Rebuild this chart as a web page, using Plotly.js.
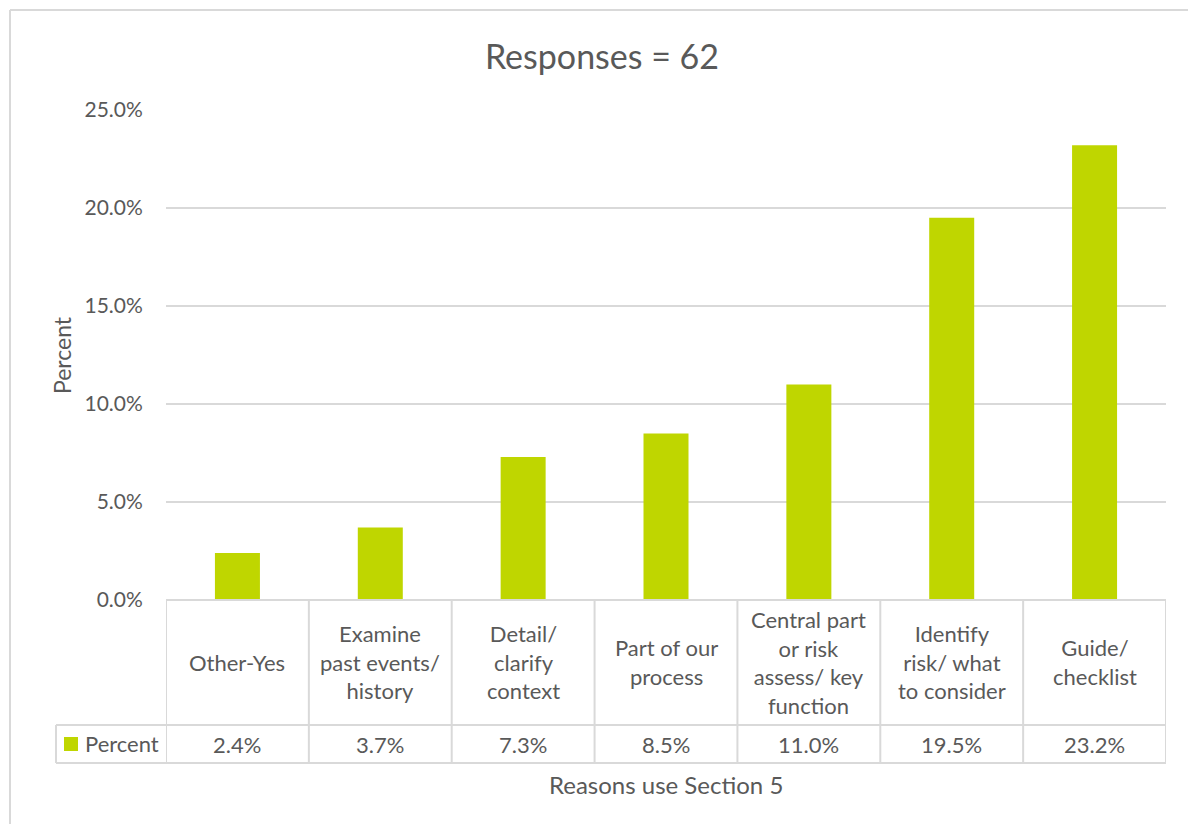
<!DOCTYPE html>
<html>
<head>
<meta charset="utf-8">
<script src="https://cdn.plot.ly/plotly-3.0.1.min.js"></script>
<style>html,body{margin:0;padding:0;background:#fff;}#chart{width:1188px;height:824px;}</style>
</head>
<body>
<div id="chart"></div>
<script>
// ---- data ----
const categories = ["Other-Yes", "Examine past events/ history", "Detail/ clarify context", "Part of our process", "Central part or risk assess/ key function", "Identify risk/ what to consider", "Guide/ checklist"];
const categoryLabels = ["Other-Yes", "Examine<br>past events/<br>history", "Detail/<br>clarify<br>context", "Part of our<br>process", "Central part<br>or risk<br>assess/ key<br>function", "Identify<br>risk/ what<br>to consider", "Guide/<br>checklist"];
const percentValues = [2.4, 3.7, 7.3, 8.5, 11.0, 19.5, 23.2];
const seriesName = "Percent";
const yTickValues = [0, 5, 10, 15, 20, 25];
const yTickLabels = ["0.0%", "5.0%", "10.0%", "15.0%", "20.0%", "25.0%"];
const chartTitle = "Responses = 62";
const xTitle = "Reasons use Section 5";
const yTitle = "Percent";

// ---- styling ----
const FONT = "Lato, 'Open Sans', sans-serif";
const TXT = "#595959";
const LINE = "#d9d9d9";
const BAR = "#BFD600";

// geometry helpers (paper coords) — plot area: x 166..1166, y 110..600
const H = 490;
const py = p => (600 - p) / H;
const px = p => (p - 166) / 1000;

const shapes = [];
const annotations = [];

// chart border (left and top visible)
shapes.push({type: "line", xref: "paper", yref: "paper", x0: px(10), x1: px(10), y0: py(830), y1: py(10), line: {color: LINE, width: 2}, layer: "below"});
shapes.push({type: "line", xref: "paper", yref: "paper", x0: px(10), x1: px(1195), y0: py(10), y1: py(10), line: {color: LINE, width: 2}, layer: "below"});

// table horizontal lines
shapes.push({type: "line", xref: "paper", yref: "paper", x0: 0, x1: 1, y0: 0, y1: 0, line: {color: LINE, width: 2}});
shapes.push({type: "line", xref: "paper", yref: "paper", x0: px(56), x1: 1, y0: py(725), y1: py(725), line: {color: LINE, width: 2}});
shapes.push({type: "line", xref: "paper", yref: "paper", x0: px(56), x1: 1, y0: py(763), y1: py(763), line: {color: LINE, width: 2}});
// table vertical lines at category boundaries
for (let i = 0; i <= categories.length; i++) {
  shapes.push({type: "line", xref: "x", yref: "paper", x0: i - 0.5, x1: i - 0.5, y0: py(763), y1: 0, line: {color: LINE, width: 2}});
}
shapes.push({type: "line", xref: "paper", yref: "paper", x0: px(56), x1: px(56), y0: py(763), y1: py(725), line: {color: LINE, width: 2}});
// legend key
shapes.push({type: "rect", xref: "paper", yref: "paper", x0: px(64), x1: px(78), y0: py(751), y1: py(737), line: {width: 0}, fillcolor: BAR});

// category labels and values
categories.forEach((c, i) => {
  annotations.push({x: c, xref: "x", y: py(662), yref: "paper", text: categoryLabels[i], showarrow: false, xanchor: "center", yanchor: "middle", align: "center", font: {family: FONT, size: 22, color: TXT}});
  annotations.push({x: c, xref: "x", y: py(744), yref: "paper", text: percentValues[i].toFixed(1) + "%", showarrow: false, xanchor: "center", yanchor: "middle", font: {family: FONT, size: 22, color: TXT}});
});
annotations.push({x: px(83), xref: "paper", y: py(743), yref: "paper", text: seriesName, showarrow: false, xanchor: "left", yanchor: "middle", font: {family: FONT, size: 22, color: TXT}});
// axis titles
annotations.push({x: px(666), xref: "paper", y: py(785), yref: "paper", text: xTitle, showarrow: false, xanchor: "center", yanchor: "middle", font: {family: FONT, size: 24, color: TXT}});
annotations.push({x: px(62), xref: "paper", y: py(355), yref: "paper", text: yTitle, showarrow: false, textangle: -90, xanchor: "center", yanchor: "middle", font: {family: FONT, size: 23, color: TXT}});

const trace = {
  type: "bar",
  x: categories,
  y: percentValues,
  name: seriesName,
  marker: {color: BAR},
  hoverinfo: "x+y"
};

const layout = {
  width: 1188, height: 824,
  margin: {l: 166, r: 22, t: 110, b: 224},
  paper_bgcolor: "#ffffff", plot_bgcolor: "#ffffff",
  showlegend: false,
  bargap: 0.685,
  title: {text: chartTitle, x: 602/1188, xanchor: "center", y: 1 - 57/824, yanchor: "middle", font: {family: FONT, size: 34, color: TXT}},
  xaxis: {type: "category", showticklabels: false, showgrid: false, zeroline: false, showline: false, ticks: "", range: [-0.5, categories.length - 0.5], fixedrange: true},
  yaxis: {range: [0, 25], tickvals: yTickValues, ticktext: yTickLabels, showgrid: true, gridcolor: LINE, gridwidth: 2, zeroline: false, showline: false, ticks: "outside", ticklen: 18, tickcolor: "rgba(0,0,0,0)", tickfont: {family: FONT, size: 21, color: TXT}, fixedrange: true},
  shapes: shapes,
  annotations: annotations
};

Plotly.newPlot("chart", [trace], layout, {displayModeBar: false, staticPlot: true});
</script>
</body>
</html>
